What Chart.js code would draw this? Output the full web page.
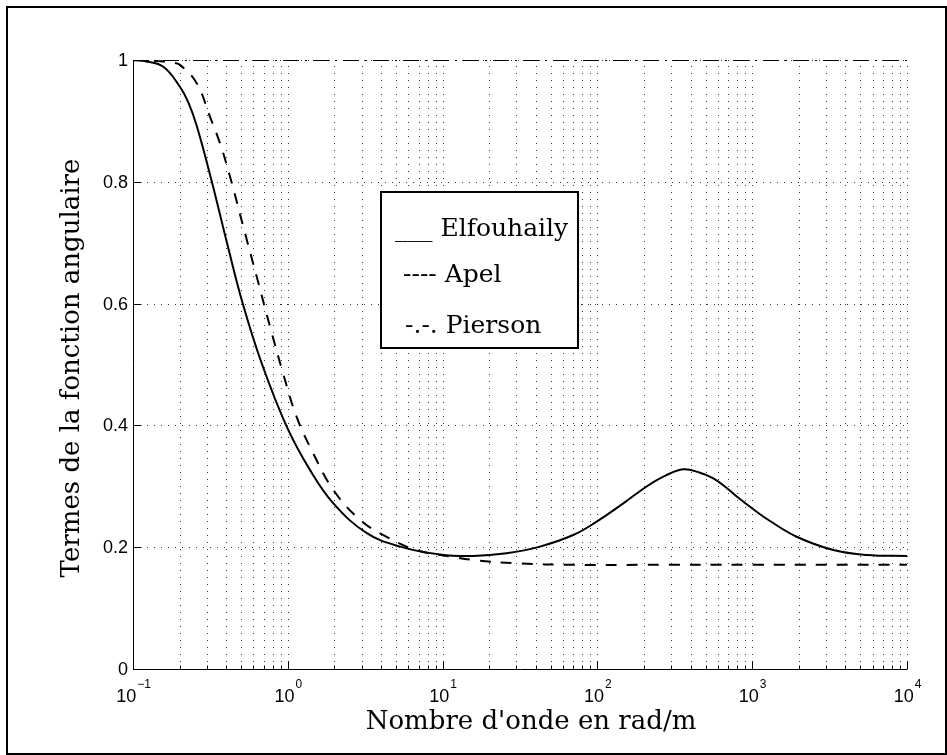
<!DOCTYPE html>
<html>
<head>
<meta charset="UTF-8">
<title>Termes de la fonction angulaire</title>
<script src="https://cdn.jsdelivr.net/npm/chart.js@4.4.0/dist/chart.umd.min.js"></script>
<style>
  html, body { margin: 0; padding: 0; background: #fff; }
</style>
</head>
<body>
<canvas id="myChart" width="947" height="755"></canvas>
<script>
// nombre d'onde (rad/m) et valeurs
var elfK = [0.1, 0.12, 0.157, 0.201, 0.228, 0.258, 0.3225, 0.4027, 0.511, 0.678, 0.984, 1.39, 1.97, 3.24, 5.31, 9.6, 15.8, 25.9, 42.5, 69.8, 98.9, 147, 208, 273, 359, 460, 561, 684, 834, 1012, 1303, 1938, 3343, 5495, 10000];
var elfV = [1, 0.998, 0.989, 0.956, 0.93, 0.892, 0.801, 0.702, 0.6005, 0.502, 0.398, 0.327, 0.272, 0.223, 0.201, 0.188, 0.1856, 0.190, 0.201, 0.220, 0.242, 0.272, 0.2997, 0.317, 0.328, 0.3223, 0.3131, 0.2972, 0.2791, 0.2627, 0.2430, 0.2172, 0.1954, 0.1872, 0.1856];

var apelK = [0.1, 0.15, 0.175, 0.201, 0.258, 0.314, 0.365, 0.424, 0.516, 0.630, 0.768, 0.936, 1.14, 1.46, 1.97, 2.93, 4.35, 6.8, 11.7, 15.8, 30, 70, 200, 1000, 10000];
var apelV = [1, 0.998, 0.996, 0.992, 0.962, 0.907, 0.863, 0.808, 0.726, 0.644, 0.562, 0.484, 0.414, 0.354, 0.294, 0.245, 0.217, 0.195, 0.184, 0.179, 0.1735, 0.171, 0.171, 0.171, 0.171];

var piersonK = [0.1, 10000];
var piersonV = [1, 1];

var yTicks = [0, 0.2, 0.4, 0.6, 0.8, 1];
var yTickLabels = ['0', '0.2', '0.4', '0.6', '0.8', '1'];
var xDecades = [0.1, 1, 10, 100, 1000, 10000];
var xExponents = ['\u22121', '0', '1', '2', '3', '4'];
var legendLines = ['___ Elfouhaily', '---- Apel', '-.-. Pierson'];
var xTitle = "Nombre d'onde en rad/m";
var yTitle = 'Termes de la fonction angulaire';

function pairs(ks, vs) {
  return ks.map(function (k, i) { return { x: k, y: vs[i] }; });
}

// grille mineure du log : 1..9 x 10^n
function xGridValues() {
  var out = [];
  for (var e = -1; e <= 3; e++) {
    for (var m = 1; m <= 9; m++) out.push(m * Math.pow(10, e));
  }
  out.push(10000);
  return out;
}

var serif = '"DejaVu Serif", serif';
var sans = '"Liberation Sans", Arial, sans-serif';

var matlabAxes = {
  id: 'matlabAxes',
  beforeDatasetsDraw: function (chart) {
    var ctx = chart.ctx, a = chart.chartArea, xs = chart.scales.x, ys = chart.scales.y;
    ctx.save();
    ctx.strokeStyle = '#333';
    ctx.lineWidth = 1;
    ctx.setLineDash([1, 6]);
    xGridValues().forEach(function (v) {
      var px = Math.round(xs.getPixelForValue(v)) + 0.5;
      ctx.beginPath(); ctx.moveTo(px, a.bottom); ctx.lineTo(px, a.top); ctx.stroke();
    });
    yTicks.forEach(function (v) {
      var py = Math.round(ys.getPixelForValue(v)) + 0.5;
      ctx.beginPath(); ctx.moveTo(a.left, py); ctx.lineTo(a.right, py); ctx.stroke();
    });
    ctx.restore();
  },
  afterDraw: function (chart) {
    var ctx = chart.ctx, a = chart.chartArea, xs = chart.scales.x, ys = chart.scales.y;
    ctx.save();
    ctx.setLineDash([]);
    ctx.strokeStyle = '#000';
    ctx.lineWidth = 1;
    var left = Math.round(a.left) + 0.5, bottom = Math.round(a.bottom) + 0.5;
    ctx.beginPath();
    ctx.moveTo(left, a.top); ctx.lineTo(left, bottom); ctx.lineTo(a.right, bottom);
    ctx.stroke();

    // ticks x
    xGridValues().forEach(function (v) {
      var px = Math.round(xs.getPixelForValue(v)) + 0.5;
      var major = xDecades.some(function (d) { return Math.abs(d - v) / d < 1e-9; });
      ctx.beginPath(); ctx.moveTo(px, bottom); ctx.lineTo(px, bottom - (major ? 8 : 4)); ctx.stroke();
    });
    // ticks y
    yTicks.forEach(function (v) {
      var py = Math.round(ys.getPixelForValue(v)) + 0.5;
      ctx.beginPath(); ctx.moveTo(left, py); ctx.lineTo(left + 8, py); ctx.stroke();
    });

    // labels y
    ctx.fillStyle = '#000';
    ctx.font = '18px ' + sans;
    ctx.textAlign = 'right';
    ctx.textBaseline = 'middle';
    yTicks.forEach(function (v, i) {
      ctx.fillText(yTickLabels[i], a.left - 5, ys.getPixelForValue(v) + 1);
    });

    // labels x : 10 avec exposant
    ctx.textBaseline = 'alphabetic';
    ctx.textAlign = 'left';
    xDecades.forEach(function (d, i) {
      var px = xs.getPixelForValue(d);
      ctx.font = '18px ' + sans;
      var wb = ctx.measureText('10').width;
      ctx.font = '12px ' + sans;
      var we = ctx.measureText(xExponents[i]).width;
      var x0 = px - (wb + we) / 2;
      ctx.font = '18px ' + sans;
      ctx.fillText('10', x0, a.bottom + 33);
      ctx.font = '12px ' + sans;
      ctx.fillText(xExponents[i], x0 + wb + 1, a.bottom + 19);
    });

    // titres des axes
    ctx.font = '26px ' + serif;
    ctx.textAlign = 'center';
    ctx.fillText(xTitle, 531, 729);
    ctx.save();
    ctx.translate(79, 368);
    ctx.rotate(-Math.PI / 2);
    ctx.fillText(yTitle, 0, 0);
    ctx.restore();

    // legende
    ctx.fillStyle = '#fff';
    ctx.fillRect(381, 192, 197, 156);
    ctx.lineWidth = 2;
    ctx.strokeRect(381, 192, 197, 156);
    ctx.fillStyle = '#000';
    ctx.font = '25px ' + serif;
    ctx.textAlign = 'left';
    var lx = [395, 403, 405], ly = [236, 282, 333];
    legendLines.forEach(function (t, i) { ctx.fillText(t, lx[i], ly[i]); });

    // cadre de la figure
    ctx.lineWidth = 2;
    ctx.strokeRect(7, 7, 939, 747);
    ctx.restore();
  }
};

var ctx = document.getElementById('myChart').getContext('2d');
var chart = new Chart(ctx, {
  type: 'line',
  data: {
    datasets: [
      {
        label: 'Pierson',
        data: pairs(piersonK, piersonV),
        borderColor: '#000',
        borderWidth: 2,
        borderDash: [16, 6, 2, 6],
        pointRadius: 0,
        fill: false
      },
      {
        label: 'Apel',
        data: pairs(apelK, apelV),
        borderColor: '#000',
        borderWidth: 2,
        borderDash: [11, 10],
        pointRadius: 0,
        tension: 0.4,
        fill: false
      },
      {
        label: 'Elfouhaily',
        data: pairs(elfK, elfV),
        borderColor: '#000',
        borderWidth: 2,
        pointRadius: 0,
        tension: 0.4,
        fill: false
      }
    ]
  },
  options: {
    responsive: false,
    animation: false,
    devicePixelRatio: 1,
    layout: { padding: { top: 60, right: 40, left: 0, bottom: 0 } },
    plugins: { legend: { display: false }, tooltip: { enabled: false } },
    scales: {
      x: {
        type: 'logarithmic',
        min: 0.1,
        max: 10000,
        grid: { display: false },
        border: { display: false },
        ticks: { display: false },
        afterFit: function (s) { s.height = 86; }
      },
      y: {
        type: 'linear',
        min: 0,
        max: 1,
        grid: { display: false },
        border: { display: false },
        ticks: { display: false, stepSize: 0.2 },
        afterFit: function (s) { s.width = 133; }
      }
    }
  },
  plugins: [matlabAxes]
});
</script>
</body>
</html>
